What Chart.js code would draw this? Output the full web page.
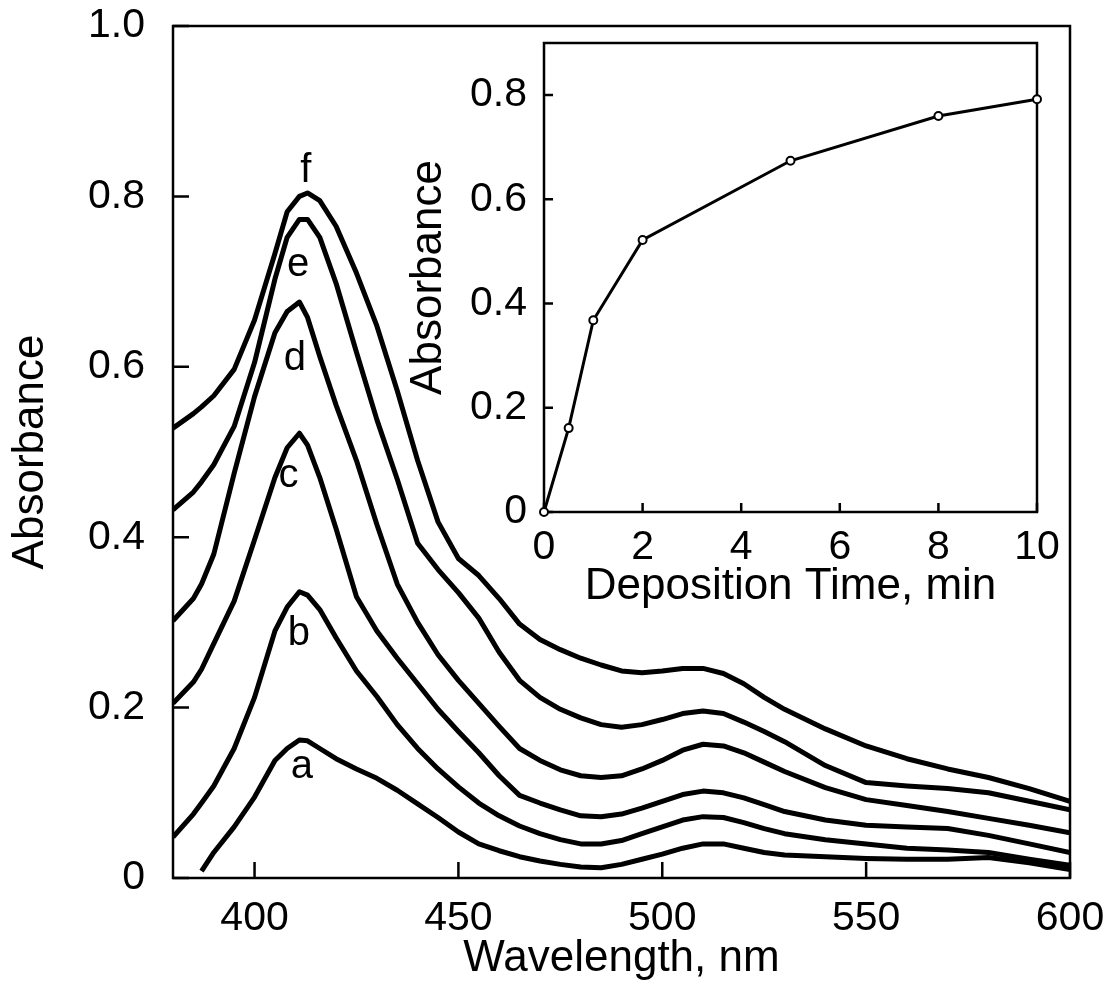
<!DOCTYPE html>
<html lang="en">
<head>
  <meta charset="UTF-8">
  <title>Absorbance spectra vs deposition time</title>
  <script src="https://cdn.jsdelivr.net/npm/chart.js"></script>
  <style>
    body { margin: 0; background: #fff; }
    #wrap { position: relative; width: 1113px; height: 1005px; }
    #main { position: absolute; left: 0; top: 0; }
    #inset { position: absolute; left: 380px; top: 0; }
  </style>
</head>
<body>
  <div id="wrap">
    <canvas id="main" width="1113" height="1005"></canvas>
    <canvas id="inset" width="700" height="620"></canvas>
  </div>

  <script>
    // main spectra (absorbance vs wavelength, nm)
    const wavelengths = [380, 385, 387, 390, 395, 400, 405, 408, 411, 413, 416, 420, 425, 430, 435, 440, 445, 450, 455, 460,
      465, 470, 475, 480, 485, 490, 495, 500, 505, 510, 515, 520, 525, 530, 540, 550, 560, 570, 580, 590, 600];

    const specA = [null, null, 0.008, 0.03, 0.06, 0.095, 0.138, 0.152, 0.162, 0.161, 0.152, 0.14, 0.128, 0.117, 0.103, 0.087, 0.071, 0.054, 0.04, 0.032,
      0.025, 0.02, 0.016, 0.013, 0.012, 0.016, 0.022, 0.028, 0.035, 0.04, 0.04, 0.035, 0.03, 0.027, 0.025, 0.023, 0.022, 0.022, 0.024, 0.018, 0.01];
    const specB = [0.048, 0.075, 0.088, 0.108, 0.152, 0.212, 0.29, 0.318, 0.336, 0.332, 0.315, 0.282, 0.243, 0.213, 0.18, 0.152, 0.128, 0.107, 0.088, 0.073,
      0.061, 0.052, 0.045, 0.04, 0.04, 0.044, 0.052, 0.06, 0.068, 0.072, 0.071, 0.065, 0.058, 0.052, 0.045, 0.04, 0.035, 0.033, 0.03, 0.022, 0.015];
    const specC = [0.205, 0.23, 0.245, 0.275, 0.325, 0.397, 0.47, 0.505, 0.522, 0.508, 0.47, 0.41, 0.33, 0.29, 0.258, 0.228, 0.198, 0.172, 0.147, 0.12,
      0.097, 0.088, 0.08, 0.073, 0.072, 0.075, 0.082, 0.09, 0.098, 0.102, 0.1, 0.094, 0.086, 0.078, 0.068, 0.062, 0.06, 0.058, 0.05, 0.04, 0.03];
    const specD = [0.302, 0.328, 0.345, 0.38, 0.475, 0.565, 0.64, 0.665, 0.676, 0.658, 0.612, 0.555, 0.49, 0.415, 0.345, 0.3, 0.262, 0.232, 0.205, 0.178,
      0.152, 0.138, 0.127, 0.12, 0.118, 0.12, 0.128, 0.138, 0.15, 0.157, 0.155, 0.147, 0.136, 0.125, 0.106, 0.092, 0.085, 0.078, 0.07, 0.062, 0.053];
    const specE = [0.432, 0.453, 0.465, 0.485, 0.53, 0.605, 0.703, 0.752, 0.773, 0.773, 0.752, 0.698, 0.617, 0.538, 0.468, 0.393, 0.362, 0.335, 0.305, 0.265,
      0.232, 0.212, 0.198, 0.188, 0.18, 0.177, 0.18, 0.186, 0.193, 0.196, 0.193, 0.183, 0.172, 0.16, 0.132, 0.112, 0.108, 0.105, 0.1, 0.09, 0.08];
    const specF = [0.528, 0.545, 0.553, 0.566, 0.597, 0.655, 0.733, 0.782, 0.8, 0.804, 0.795, 0.765, 0.71, 0.648, 0.572, 0.49, 0.418, 0.375, 0.355, 0.328,
      0.298, 0.28, 0.268, 0.258, 0.25, 0.243, 0.241, 0.243, 0.246, 0.246, 0.24, 0.228, 0.212, 0.198, 0.175, 0.155, 0.14, 0.128, 0.118, 0.105, 0.09];

    const curveNames = ['a', 'b', 'c', 'd', 'e', 'f'];
    const curveSeries = [specA, specB, specC, specD, specE, specF];
    const labelWl = [411.6, 410.9, 408.3, 409.9, 410.7, 412.6];
    const labelAbs = [0.117, 0.273, 0.459, 0.596, 0.706, 0.817];

    const mainXTicks = [400, 450, 500, 550, 600];
    const mainYTicks = [0, 0.2, 0.4, 0.6, 0.8, 1.0];

    // inset: absorbance at peak vs deposition time
    const depTime = [0, 0.5, 1, 2, 5, 8, 10];
    const depAbs = [0, 0.161, 0.368, 0.522, 0.674, 0.76, 0.792];
    const insetXTicks = [0, 2, 4, 6, 8, 10];
    const insetYTicks = [0, 0.2, 0.4, 0.6, 0.8];

    Chart.defaults.font.family = "'Liberation Sans', Arial, Helvetica, sans-serif";
    Chart.defaults.color = '#000';
    Chart.defaults.animation = false;

    const fmtAbs = v => v === 0 ? '0' : v.toFixed(1);

    // fixed axis box size, no extra room for overhanging labels
    const fixSize = (w, h) => s => {
      if (w != null) s.width = w;
      if (h != null) s.height = h;
      s.paddingLeft = s.paddingRight = s.paddingTop = s.paddingBottom = 0;
    };

    // box around the plot area plus inward tick marks
    const frame = {
      id: 'frame',
      beforeDatasetsDraw(chart, args, o) {
        const { ctx, chartArea: a, scales } = chart;
        ctx.save();
        ctx.strokeStyle = '#000';
        ctx.lineWidth = o.lineWidth;
        ctx.strokeRect(a.left, a.top, a.right - a.left, a.bottom - a.top);
        ctx.beginPath();
        scales.x.ticks.forEach(t => {
          const px = scales.x.getPixelForValue(t.value);
          ctx.moveTo(px, a.bottom);
          ctx.lineTo(px, a.bottom - o.tickLen);
        });
        scales.y.ticks.forEach(t => {
          const py = scales.y.getPixelForValue(t.value);
          ctx.moveTo(a.left, py);
          ctx.lineTo(a.left + o.tickLen, py);
        });
        ctx.stroke();
        ctx.restore();
      }
    };

    const curveLabels = {
      id: 'curveLabels',
      afterDatasetsDraw(chart) {
        const { ctx, scales } = chart;
        ctx.save();
        ctx.fillStyle = '#000';
        ctx.font = "40px 'Liberation Sans', Arial, sans-serif";
        ctx.textAlign = 'center';
        ctx.textBaseline = 'alphabetic';
        curveNames.forEach((n, i) => {
          ctx.fillText(n, scales.x.getPixelForValue(labelWl[i]), scales.y.getPixelForValue(labelAbs[i]));
        });
        ctx.restore();
      }
    };

    new Chart(document.getElementById('main'), {
      type: 'line',
      data: {
        datasets: curveSeries.map((s, i) => ({
          label: curveNames[i],
          data: wavelengths.map((w, j) => ({ x: w, y: s[j] })),
          borderColor: '#000',
          borderWidth: 5,
          borderJoinStyle: 'round',
          pointRadius: 0,
          fill: false
        }))
      },
      options: {
        responsive: false,
        devicePixelRatio: 1,
        layout: { padding: { top: 26, right: 43, left: 0, bottom: 0 } },
        plugins: { legend: { display: false }, tooltip: { enabled: false }, frame: { lineWidth: 2.5, tickLen: 16 } },
        scales: {
          x: {
            type: 'linear', min: 380, max: 600,
            afterBuildTicks: s => { s.ticks = mainXTicks.map(v => ({ value: v })); },
            afterFit: fixSize(null, 127),
            grid: { display: false, drawTicks: false },
            border: { display: false },
            ticks: { font: { size: 41 }, padding: 16, maxRotation: 0, autoSkip: false, callback: v => String(v) },
            title: { display: true, text: 'Wavelength, nm', font: { size: 44 }, padding: { top: 0, bottom: 20 } }
          },
          y: {
            min: 0, max: 1,
            afterBuildTicks: s => { s.ticks = mainYTicks.map(v => ({ value: v })); },
            afterFit: fixSize(173, null),
            grid: { display: false, drawTicks: false },
            border: { display: false },
            ticks: { font: { size: 41 }, padding: 28, callback: fmtAbs },
            title: { display: true, text: 'Absorbance', font: { size: 44 }, padding: { top: 4, bottom: 0 } }
          }
        }
      },
      plugins: [frame, curveLabels]
    });

    new Chart(document.getElementById('inset'), {
      type: 'line',
      data: {
        datasets: [{
          data: depTime.map((t, i) => ({ x: t, y: depAbs[i] })),
          borderColor: '#000',
          borderWidth: 3,
          pointRadius: 4,
          pointBorderWidth: 2,
          pointBorderColor: '#000',
          pointBackgroundColor: '#fff',
          clip: false,
          fill: false
        }]
      },
      options: {
        responsive: false,
        devicePixelRatio: 1,
        layout: { padding: { top: 43, right: 43, left: 0, bottom: 0 } },
        plugins: { legend: { display: false }, tooltip: { enabled: false }, frame: { lineWidth: 2.5, tickLen: 9 } },
        scales: {
          x: {
            type: 'linear', min: 0, max: 10,
            afterBuildTicks: s => { s.ticks = insetXTicks.map(v => ({ value: v })); },
            afterFit: fixSize(null, 108),
            grid: { display: false, drawTicks: false },
            border: { display: false },
            ticks: { font: { size: 41 }, padding: 11, maxRotation: 0, autoSkip: false, callback: v => String(v) },
            title: { display: true, text: 'Deposition Time, min', font: { size: 44 }, padding: { top: 0, bottom: 7 } }
          },
          y: {
            min: 0, max: 0.9,
            afterBuildTicks: s => { s.ticks = insetYTicks.map(v => ({ value: v })); },
            afterFit: fixSize(164, null),
            grid: { display: false, drawTicks: false },
            border: { display: false },
            ticks: { font: { size: 41 }, padding: 17, callback: fmtAbs },
            title: { display: true, text: 'Absorbance', font: { size: 44 }, padding: { top: 22, bottom: 0 } }
          }
        }
      },
      plugins: [frame]
    });
  </script>
</body>
</html>
